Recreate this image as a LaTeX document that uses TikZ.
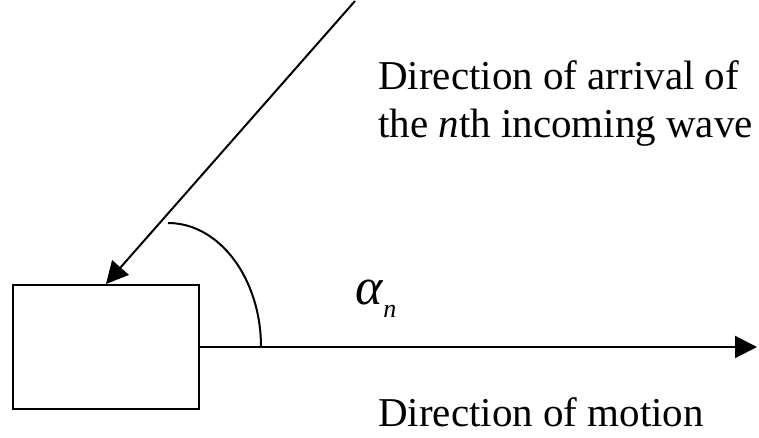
\documentclass[tikz,border=0pt]{standalone}
\usepackage{fontspec}
\setmainfont{Liberation Serif}
\usetikzlibrary{arrows.meta,positioning}

\begin{document}
\begin{tikzpicture}[x=1pt,y=1pt,
      device/.style={draw,line width=2pt,minimum width=186pt,minimum height=124pt,inner sep=0pt},
      arr/.style={-{Triangle[length=22pt,width=22pt]},line width=2pt},
      lbl/.style={font=\fontsize{41}{48}\selectfont,inner sep=0pt,align=left}]
      \useasboundingbox (0,0) rectangle (759,438);
      \node[device] (box) at (106,91) {};
      \coordinate (motion) at (757,91);
      \coordinate (src) at (355,437);
      \draw[arr] (box.east) -- (motion);
      \draw[arr] (src) -- (box.north);
      \draw[line width=2pt] (168,215) arc[start angle=90,end angle=0,x radius=93,y radius=124];
      \node[lbl,anchor=base west] (arrival) at (378,300) {Direction of arrival of\\the \textit{n}th incoming wave};
      \node[lbl,anchor=base west] (motionlbl) at (378,11) {Direction of motion};
      \node[inner sep=0pt,anchor=base west] (angle) at (355,133)
        {\fontsize{52}{52}\selectfont\textit{α}\raisebox{-13pt}{\fontsize{26}{26}\selectfont\textit{n}}};
\end{tikzpicture}
\end{document}
